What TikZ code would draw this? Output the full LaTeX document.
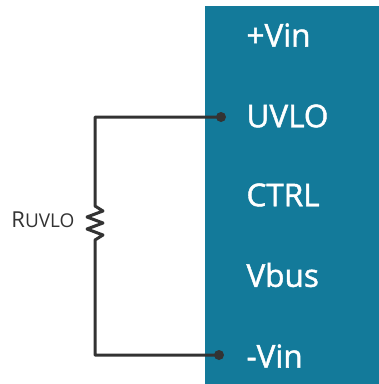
\documentclass[tikz,border=0pt]{standalone}
\usepackage{fontspec}
\setmainfont{Open Sans}
\newfontfamily\pinfont{Open Sans}[FakeBold=1.4]
\definecolor{chipteal}{HTML}{137A9A}
\definecolor{wiregray}{HTML}{333333}
\begin{document}
\begin{tikzpicture}[x=1pt,y=-1pt,line width=3pt,
    pin/.style={font=\fontsize{31.5}{31.5}\pinfont,text=white,anchor=west,inner sep=0pt},
    dot/.style={circle,fill=wiregray,inner sep=0pt,minimum size=10pt}]
            \useasboundingbox (0,0) rectangle (379,384);
            \fill[chipteal] (205,6) rectangle (379,384);
            \node[pin] (vinp) at (245,35) {+Vin};
            \node[pin] (uvlo) at (245,116) {UVLO};
            \node[pin] (ctrl) at (245,195) {CTRL};
            \node[pin] (vbus) at (245,275) {Vbus};
            \node[pin] (vinm) at (245,356) {-Vin};
            \node[dot] (d1) at (221,117) {};
            \node[dot] (d2) at (219,355) {};
            \coordinate (c1) at (95,117);
            \coordinate (c2) at (95,355);
            \coordinate (r1) at (95,206);
            \coordinate (r2) at (95,244);
            \draw[wiregray,line join=round] (d1.center) -- (c1) -- (r1)
                -- ++(8,5) -- ++(-16,6) -- ++(16,6) -- ++(-16,6) -- ++(16,6) -- ++(-8,5)
                -- (r2) -- (c2) -- (d2.center);
            \node[text=wiregray,anchor=east,inner sep=0pt] (ruvlo) at (76,220)
                {\fontsize{22}{22}\selectfont R\fontsize{19}{19}\selectfont UVLO};
        \end{tikzpicture}
\end{document}
